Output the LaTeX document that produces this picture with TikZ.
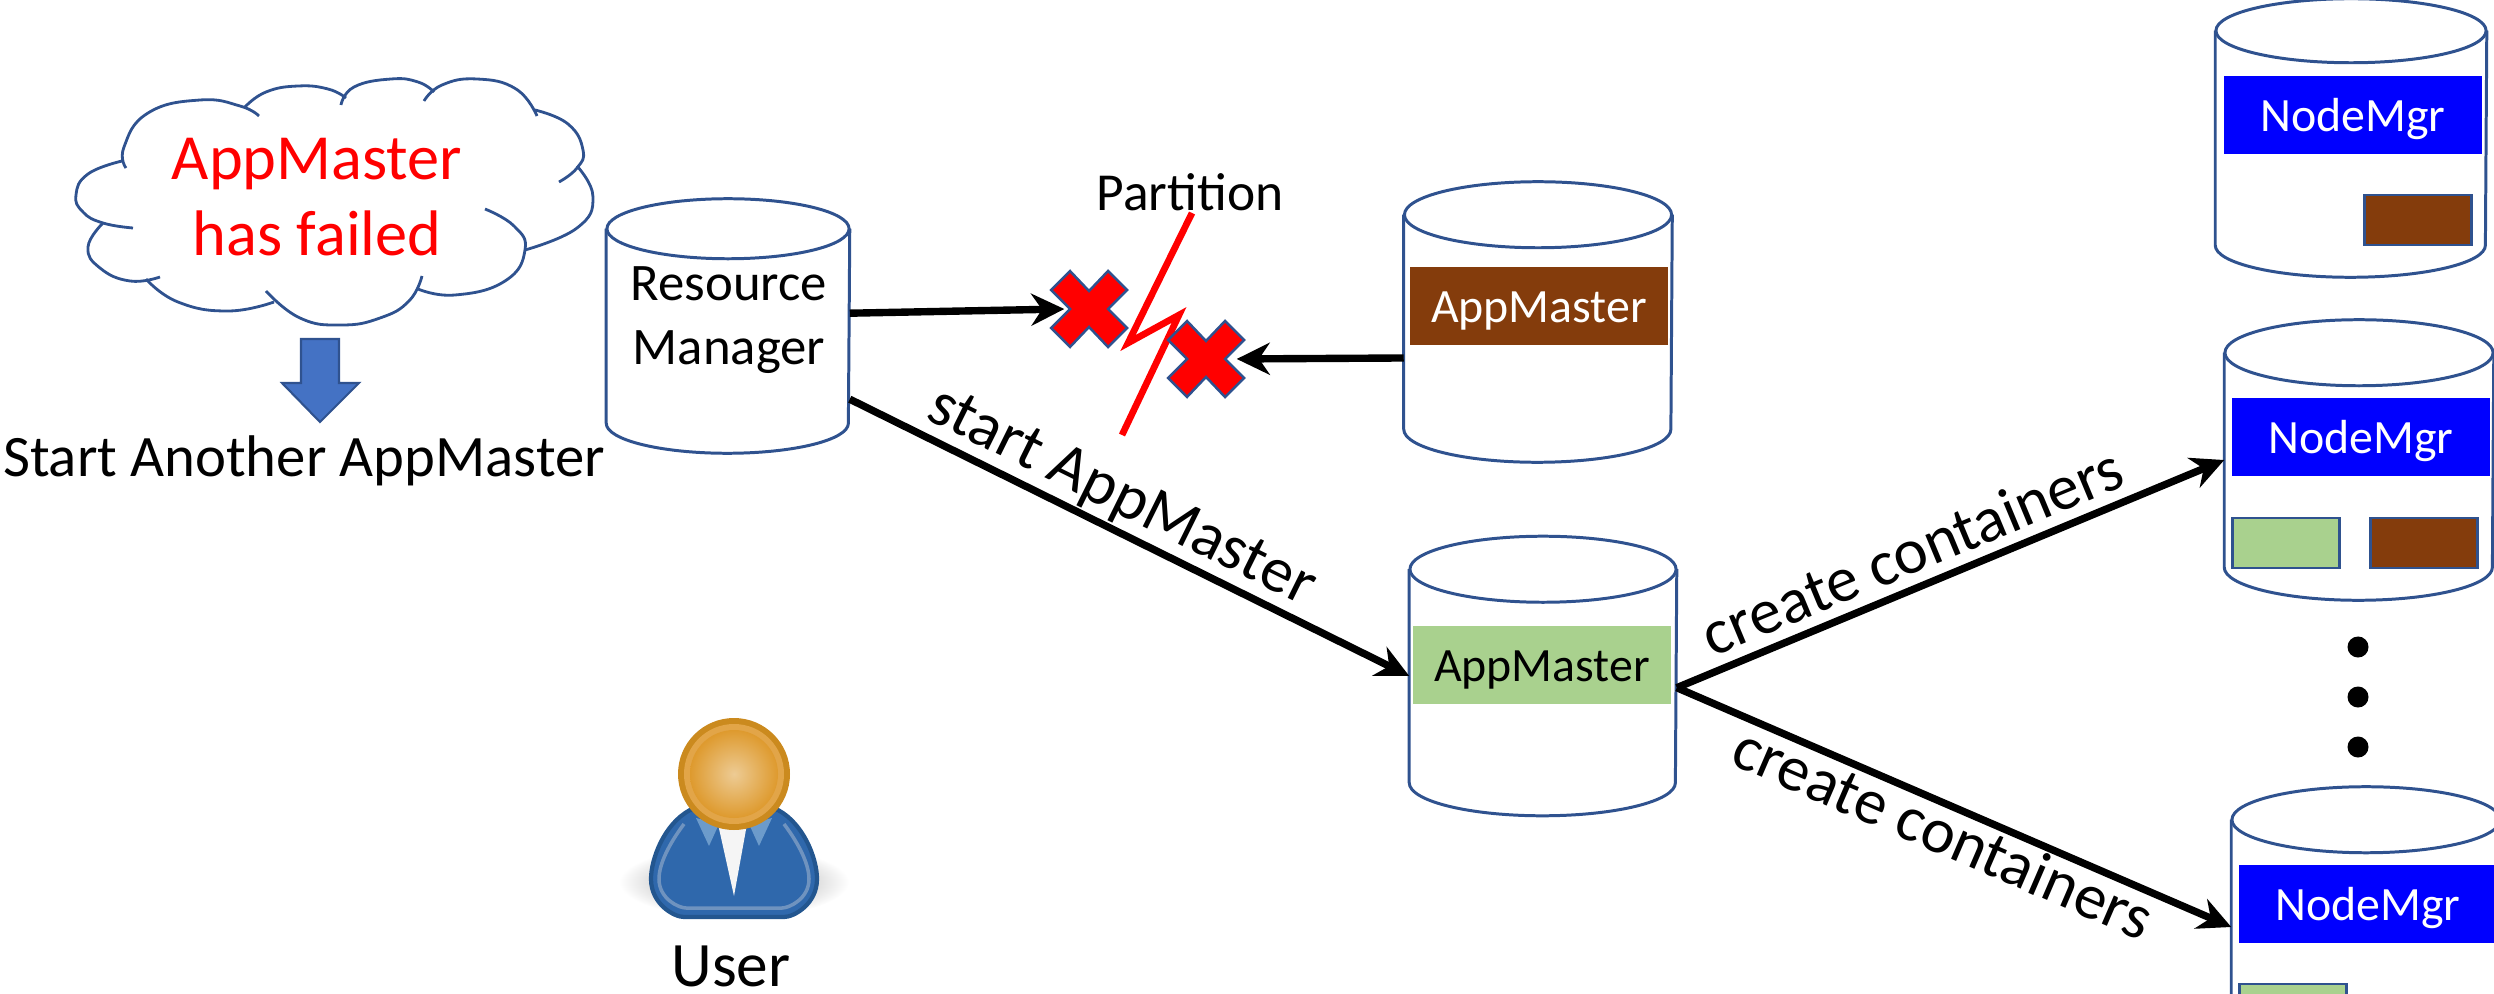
\documentclass[tikz,border=0pt]{standalone}
\usepackage{fontspec}
\usepackage{xcolor}
\setmainfont{Carlito}
\usetikzlibrary{arrows.meta}

\definecolor{rimblue}{HTML}{2F528F}
\definecolor{arrowblue}{HTML}{4472C4}
\definecolor{ambrown}{HTML}{843C0C}
\definecolor{amgreen}{HTML}{A9D18E}
\definecolor{suitdark}{HTML}{23568F}
\definecolor{suitblue}{HTML}{2F68AC}
\definecolor{suitring}{HTML}{6F93BF}
\definecolor{collar}{HTML}{6C9BCB}
\definecolor{headrim}{HTML}{CB8A1E}
\definecolor{headring}{HTML}{E2A548}
\definecolor{headlight}{HTML}{EDCB94}
\definecolor{headdark}{HTML}{DE9A2E}

\tikzset{
    cylbody/.style = {inner sep=0pt, align=center},
    cylline/.style = {draw=rimblue, line width=.85pt},
    bar/.style     = {inner sep=0pt, minimum height=.78cm, text height=.46cm, text depth=.14cm,
                      font=\fontsize{13.6}{16}\selectfont},
    box/.style     = {inner sep=0pt, draw=rimblue, line width=.8pt, minimum width=1.07cm, minimum height=.5cm},
    puff/.style    = {draw=rimblue, line width=.8pt},
    label/.style   = {inner sep=0pt, font=\fontsize{18.25}{21}\selectfont}
}

\begin{document}
\begin{tikzpicture}[x=.01cm,y=-.01cm]
    \path[use as bounding box,clip] (0,0) rectangle (2494,994);

    \begin{scope}[every node/.style = {cylbody}]
        \node[minimum width=2.42cm, minimum height=2.53cm] (rm) at (728,326) {};
        \node[minimum width=2.67cm, minimum height=2.79cm] (amold) at (1538,322) {};
        \node[minimum width=2.66cm, minimum height=2.78cm] (amnew) at (1543,676) {};
        \node[minimum width=2.70cm, minimum height=2.77cm] (nma) at (2351,138) {};
        \node[minimum width=2.68cm, minimum height=2.79cm] (nmb) at (2359,460) {};
        \node[minimum width=2.68cm, minimum height=2.79cm] (nmc) at (2366,927) {};
    \end{scope}

    \foreach \n/\rx/\ry in {rm/1.21cm/.3cm, amold/1.335cm/.33cm, amnew/1.33cm/.33cm,
                            nma/1.35cm/.32cm, nmb/1.34cm/.33cm, nmc/1.34cm/.33cm} {
        \draw[cylline] ([yshift=-\ry]\n.north west) -- ([yshift=\ry]\n.south west)
            arc [start angle=180, end angle=360, x radius=\rx, y radius=\ry] -- ([yshift=-\ry]\n.north east);
        \draw[cylline] ([yshift=-\ry]\n.north) ellipse [x radius=\rx, y radius=\ry];
    }
    \node[cylbody, font=\fontsize{15}{18.1}\selectfont] (rmtext) at (729,320) {Resource\\Manager};

    \begin{scope}[every node/.style = {bar, minimum width=2.57cm}]
        \node[fill=ambrown, text=white, minimum width=2.58cm] (barold) at (1539,306) {AppMaster};
        \node[fill=amgreen, text=black, minimum width=2.58cm] (barnew) at (1542,665) {AppMaster};
        \node[fill=blue, text=white] (bara) at (2353,115) {NodeMgr};
        \node[fill=blue, text=white] (barb) at (2361,437) {NodeMgr};
        \node[fill=blue, text=white] (barc) at (2368,904) {NodeMgr};
    \end{scope}

    \begin{scope}[every node/.style = {box}]
        \node[fill=ambrown] (ca) at (2418,220) {};
        \node[fill=amgreen] (cb) at (2286,543) {};
        \node[fill=ambrown] (cc) at (2424,543) {};
        \node[fill=amgreen] (cd) at (2293,1009) {};
    \end{scope}

    \foreach \n/\px/\py in {dota/2358/647, dotb/2358/697, dotc/2358/747}
        \node[circle, fill=black, inner sep=0pt, minimum size=.21cm] (\n) at (\px,\py) {};

    \draw[puff] plot[smooth,tension=.8] coordinates {(126,168) (124,147) (148,113) (200,100) (240,106) (259,116)};
    \draw[puff] plot[smooth,tension=.8] coordinates {(245,107) (266,92) (298,86) (328,89) (346,98)};
    \draw[puff] plot[smooth,tension=.8] coordinates {(341,105) (354,87) (391,79) (418,82) (434,92)};
    \draw[puff] plot[smooth,tension=.8] coordinates {(424,101) (442,85) (477,79) (516,89) (537,116)};
    \draw[puff] plot[smooth,tension=.8] coordinates {(535,110) (568,124) (583,150) (577,168) (559,182)};
    \draw[puff] plot[smooth,tension=.8] coordinates {(577,166) (593,197) (577,228) (525,250)};
    \draw[puff] plot[smooth,tension=.8] coordinates {(485,209) (514,226) (525,250) (505,281) (455,295) (418,289)};
    \draw[puff] plot[smooth,tension=.8] coordinates {(422,276) (409,301) (380,318) (341,325) (300,318) (266,291)};
    \draw[puff] plot[smooth,tension=.8] coordinates {(274,302) (228,311) (178,302) (146,279)};
    \draw[puff] plot[smooth,tension=.8] coordinates {(160,277) (130,281) (100,268) (88,247) (103,223)};
    \draw[puff] plot[smooth,tension=.8] coordinates {(133,228) (103,223) (83,212) (76,195) (88,174) (122,161)};

    \node[align=center, text=red, inner sep=0pt, font=\fontsize{18.3}{21.8}\selectfont] (failed) at (317,197) {AppMaster\\has failed};
    \draw[fill=arrowblue, draw=rimblue, line width=.6pt] (301,339) -- (339,339) -- (339,383) -- (359,383) -- (320,422) -- (282,383) -- (301,383) -- cycle;
    \node[inner sep=0pt, font=\fontsize{16.7}{20}\selectfont] (another) at (304,461) {Start Another AppMaster};

    \node[inner sep=0pt, font=\fontsize{15.2}{17}\selectfont] (part) at (1190,192) {Partition};
    \draw[red, line width=1.9pt] (1192,213) -- (1128,343) -- (1179,315) -- (1122,435);

    \foreach \n/\px/\py in {xa/1089/309, xb/1206/359} {
        \node[inner sep=0pt, minimum size=.48cm] (\n) at (\px,\py) {};
        \draw[fill=red, draw=rimblue, line width=.7pt, shift={(\px,\py)}]
            (-19,-38) -- (0,-18) -- (19,-38) -- (38,-19) -- (19,0) -- (38,19) -- (19,38)
            -- (0,18) -- (-19,38) -- (-38,19) -- (-19,0) -- (-38,-19) -- cycle;
    }

    \begin{scope}[shift={(734,774)}]
        \shade[inner color=black!45, outer color=white] (0,108) ellipse (115 and 36);
        \draw[fill=suitblue, draw=suitdark, line width=1.2pt]
            (-44,36) .. controls (-70,50) and (-83,85) .. (-83,105)
            .. controls (-83,130) and (-60,143) .. (-50,143) -- (50,143)
            .. controls (60,143) and (83,130) .. (83,105)
            .. controls (83,85) and (70,50) .. (44,36) -- cycle;
        \draw[suitring, line width=1pt]
            (-50,50) .. controls (-65,70) and (-75,90) .. (-75,105)
            .. controls (-75,125) and (-55,134) .. (-48,134) -- (48,134)
            .. controls (55,134) and (75,125) .. (75,105)
            .. controls (75,90) and (65,70) .. (50,50);
        \fill[collar] (-38,44) -- (-15,50) -- (-25,72) -- cycle;
        \fill[collar] (38,44) -- (15,50) -- (25,72) -- cycle;
        \fill[white!92!gray] (-16,50) -- (13,50) -- (0,122) -- cycle;
        \fill[headrim] (0,0) circle (56);
        \fill[headring] (0,0) circle (50);
        \shade[inner color=headlight, outer color=headdark] (0,0) circle (44);
    \end{scope}
    \node[inner sep=0pt, anchor=base, font=\fontsize{18}{21}\selectfont] (user) at (731,986) {User};

    \begin{scope}[>={Stealth[black,length=.33cm,width=.32cm]},
                  every edge/.style={draw=black,line width=2.1pt}]
        \path [->] (rm.6) edge (xa.west);
        \path [->] (amold.195.5) edge[shorten >=.06cm] (xb.east);
        \path [->] (rm.-31) edge node[label, sloped, above=.02cm, pos=.46] {start AppMaster} (amnew.west);
        \path [->] (amnew.-5) edge node[label, sloped, above=.1cm, pos=.455] {create containers} (nmb.west);
        \path [->] (amnew.-5) edge node[label, sloped, below=.01cm, pos=.5] {create containers} (nmc.west);
    \end{scope}
\end{tikzpicture}
\end{document}
